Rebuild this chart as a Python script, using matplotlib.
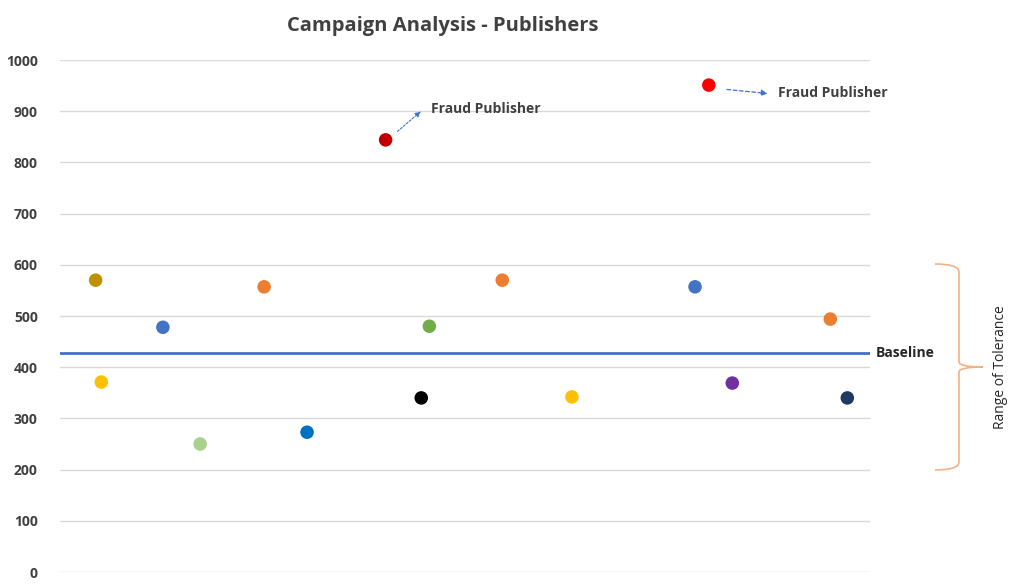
import matplotlib
matplotlib.use("Agg")
import matplotlib.pyplot as plt
from matplotlib.path import Path
from matplotlib.patches import PathPatch

# data
x_pos = [4.4, 5.1, 12.7, 17.3, 25.2, 30.5, 40.2, 44.6, 45.6, 54.6, 63.2, 80.1, 78.4, 83.0, 95.1, 97.2]
values = [570, 371, 478, 250, 557, 273, 844, 340, 480, 570, 342, 951, 557, 369, 494, 340]
colors = ["#BF9000", "#FFC000", "#4472C4", "#A9D18E", "#ED7D31", "#0070C0", "#C00000", "#000000",
          "#70AD47", "#ED7D31", "#FFC000", "#FF0000", "#4472C4", "#7030A0", "#ED7D31", "#1F3864"]
baseline = 428
y_ticks = [0, 100, 200, 300, 400, 500, 600, 700, 800, 900, 1000]
fraud_idx = [6, 11]

W, H = 1024, 588
fig = plt.figure(figsize=(W / 100, H / 100), dpi=100)
plt.rcParams['font.family'] = ['Open Sans', 'DejaVu Sans']

def fx(px):
    return px / W

def fy(py):
    return (H - py) / H

ax = fig.add_axes([fx(60), fy(572), fx(870) - fx(60), fy(60) - fy(572)])
ax.set_xlim(0, 100)
ax.set_ylim(0, 1000)
ax.set_yticks(y_ticks)
ax.set_yticklabels([str(t) for t in y_ticks], fontsize=10, fontweight='bold', color='#404040')
ax.tick_params(axis='y', length=0, pad=16)
ax.set_xticks([])
for s in ax.spines.values():
    s.set_visible(False)
ax.grid(axis='y', color='#D9D9D9', linewidth=1)
ax.set_axisbelow(True)

ax.scatter(x_pos, values, s=95, c=colors, zorder=3, linewidths=0)
ax.axhline(baseline, color='#4472C4', linewidth=2, zorder=2)
ax.text(100.7, baseline, "Baseline", fontsize=10, fontweight='bold', color='#262626',
        va='center', ha='left', clip_on=False)

# annotations
ax.annotate("", xy=(x_pos[fraud_idx[0]] + 4.6, 903),
            xytext=(x_pos[fraud_idx[0]] + 1.2, 857),
            arrowprops=dict(arrowstyle='-|>', color='#4472C4', lw=0.8, linestyle=(0, (2, 1.5)),
                            mutation_scale=8))
ax.text(x_pos[fraud_idx[0]] + 5.6, 904, "Fraud Publisher", fontsize=10, fontweight='bold',
        color='#404040', va='center', ha='left')
ax.annotate("", xy=(x_pos[fraud_idx[1]] + 7.6, 934), xytext=(x_pos[fraud_idx[1]] + 1.9, 943),
            arrowprops=dict(arrowstyle='-|>', color='#4472C4', lw=0.9, linestyle=(0, (3, 2)),
                            mutation_scale=9))
ax.text(x_pos[fraud_idx[1]] + 8.6, 936, "Fraud Publisher", fontsize=10, fontweight='bold',
        color='#404040', va='center', ha='left', clip_on=False)

# brace
verts = [(fx(935), fy(264)), (fx(959), fy(264)), (fx(959), fy(272)),
         (fx(959), fy(362)),
         (fx(959), fy(367)), (fx(983), fy(367)),
         (fx(959), fy(367)), (fx(959), fy(372)),
         (fx(959), fy(462)),
         (fx(959), fy(470)), (fx(935), fy(470))]
codes = [Path.MOVETO, Path.CURVE3, Path.CURVE3, Path.LINETO, Path.CURVE3, Path.CURVE3,
         Path.CURVE3, Path.CURVE3, Path.LINETO, Path.CURVE3, Path.CURVE3]
fig.patches.append(PathPatch(Path(verts, codes), transform=fig.transFigure, fill=False,
                             edgecolor='#F4B183', linewidth=1.2))
fig.text(fx(1000), fy(367), "Range of Tolerance", rotation=90, fontsize=10, color='#262626',
         ha='center', va='center')

fig.text(fx(443), fy(26), "Campaign Analysis - Publishers", fontsize=14.5, fontweight='bold',
         color='#404040', ha='center', va='center')

fig.savefig("out.png", dpi=100, facecolor='white')
